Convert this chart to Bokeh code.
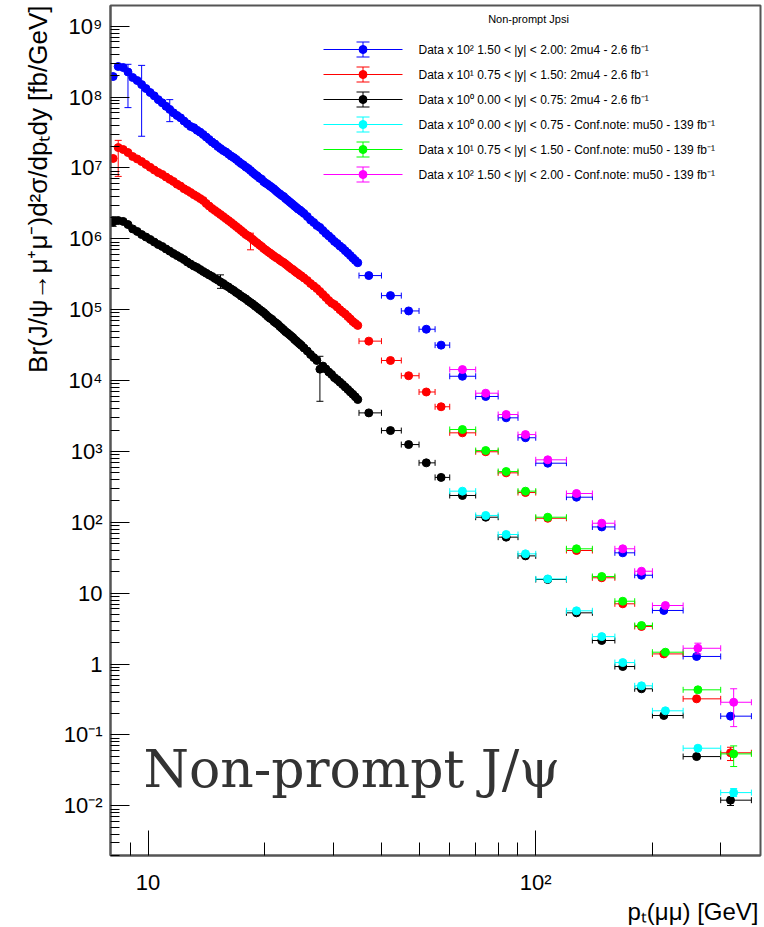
import math
from bokeh.plotting import figure
from bokeh.models import Label, FixedTicker, CustomJSTickFormatter, Range1d, Title
from bokeh.embed import file_html
from bokeh.resources import INLINE

# ---------------- data ----------------
pt_dense = [8.125, 8.375, 8.625, 8.875, 9.125, 9.375, 9.625, 9.875, 10.125, 10.375,
            10.625, 10.875, 11.125, 11.375, 11.625, 11.875, 12.125, 12.375, 12.625, 12.875,
            13.125, 13.375, 13.625, 13.875,
            14.125, 14.375, 14.625, 14.875, 15.125, 15.375, 15.625, 15.875, 16.125, 16.375,
            16.625, 16.875, 17.125, 17.375, 17.625, 17.875, 18.125, 18.375, 18.625, 18.875,
            19.125, 19.375, 19.625, 19.875, 20.125, 20.375, 20.625, 20.875, 21.125, 21.375,
            21.625, 21.875, 22.125, 22.375, 22.625, 22.875, 23.125, 23.375, 23.625, 23.875,
            24.125, 24.375, 24.625, 24.875,
            25.25, 25.75, 26.25, 26.75, 27.25, 27.75, 28.25, 28.75, 29.25, 29.75,
            30.25, 30.75, 31.25, 31.75, 32.25, 32.75, 33.25, 33.75, 34.25, 34.75]
blue_dense = [1.95e8, 2.70e8, 2.61e8, 2.26e8, 1.89e8, 1.71e8, 1.50e8, 1.32e8, 1.16e8, 1.04e8,
              9.2e7, 8.3e7, 7.4e7, 6.7e7, 6.0e7, 5.5e7, 5.1e7, 4.6e7, 4.2e7, 3.85e7,
              3.7e7, 3.4e7, 3.2e7, 2.96e7,
              2.73e7, 2.52e7, 2.32e7, 2.18e7, 2.01e7, 1.88e7, 1.76e7, 1.68e7, 1.57e7, 1.47e7,
              1.40e7, 1.32e7, 1.23e7, 1.155e7, 1.10e7, 1.03e7, 9.8e6, 9.2e6, 8.6e6, 8.1e6,
              7.7e6, 7.2e6, 6.95e6, 6.4e6, 6.1e6, 5.85e6, 5.55e6, 5.3e6, 5.05e6, 4.75e6,
              4.5e6, 4.3e6, 4.08e6, 3.95e6, 3.7e6, 3.53e6, 3.36e6, 3.2e6, 3.05e6, 2.9e6,
              2.77e6, 2.63e6, 2.55e6, 2.43e6,
              2.28e6, 2.06e6, 1.84e6, 1.70e6, 1.54e6, 1.45e6, 1.31e6, 1.19e6, 1.10e6, 1.01e6,
              9.2e5, 8.6e5, 7.9e5, 7.4e5, 6.8e5, 6.3e5, 5.8e5, 5.35e5, 4.95e5, 4.6e5]
red_dense = [1.36e7, 1.94e7, 1.82e7, 1.65e7, 1.45e7, 1.34e7, 1.23e7, 1.12e7, 1.02e7, 9.35e6,
             8.6e6, 8.1e6, 7.45e6, 6.9e6, 6.45e6, 5.9e6, 5.55e6, 5.1e6, 4.8e6, 4.5e6,
             4.2e6, 3.95e6, 3.7e6, 3.47e6,
             3.15e6, 2.90e6, 2.68e6, 2.51e6, 2.35e6, 2.20e6, 2.06e6, 1.93e6, 1.81e6, 1.70e6,
             1.59e6, 1.49e6, 1.40e6, 1.31e6, 1.23e6, 1.15e6, 1.10e6, 1.04e6, 9.8e5, 9.2e5,
             8.7e5, 8.2e5, 7.8e5, 7.3e5, 6.95e5, 6.6e5, 6.3e5, 6.0e5, 5.7e5, 5.45e5,
             5.27e5, 5.0e5, 4.78e5, 4.63e5, 4.41e5, 4.2e5, 4.0e5, 3.81e5, 3.69e5, 3.51e5,
             3.35e5, 3.24e5, 3.08e5, 2.99e5,
             2.80e5, 2.58e5, 2.34e5, 2.16e5, 1.99e5, 1.81e5, 1.64e5, 1.49e5, 1.35e5, 1.24e5,
             1.18e5, 1.09e5, 1.0e5, 9.3e4, 8.7e4, 8.0e4, 7.4e4, 6.8e4, 6.4e4, 6.0e4]
black_dense = [1.73e6, 1.81e6, 1.76e6, 1.59e6, 1.38e6, 1.27e6, 1.15e6, 1.06e6, 9.8e5, 9.0e5,
               8.3e5, 7.8e5, 7.2e5, 6.7e5, 6.2e5, 5.8e5, 5.45e5, 5.1e5, 4.7e5, 4.4e5,
               4.13e5, 3.94e5, 3.69e5, 3.46e5,
               3.27e5, 3.09e5, 2.94e5, 2.76e5, 2.62e5, 2.46e5, 2.34e5, 2.19e5, 2.09e5, 1.96e5,
               1.87e5, 1.75e5, 1.67e5, 1.56e5, 1.49e5, 1.42e5, 1.33e5, 1.26e5, 1.20e5, 1.13e5,
               1.07e5, 1.01e5, 9.6e4, 9.1e4, 8.55e4, 8.0e4, 7.6e4, 7.3e4, 6.8e4, 6.5e4,
               6.2e4, 5.8e4, 5.5e4, 5.2e4, 4.9e4, 4.7e4, 4.47e4, 4.25e4, 4.05e4, 3.8e4,
               3.62e4, 3.44e4, 3.28e4, 3.12e4,
               2.88e4, 2.61e4, 2.33e4, 2.11e4, 1.92e4, 1.45e4, 1.60e4, 1.46e4, 1.32e4, 1.22e4,
               1.10e4, 1.03e4, 9.5e3, 8.8e3, 8.1e3, 7.5e3, 6.9e3, 6.4e3, 5.9e3, 5.4e3]

blue_err_pt = [8.875, 9.625, 11.375]
blue_err_lo = [7.1e7, 2.8e7, 4.5e7]
blue_err_hi = [2.9e8, 2.8e8, 9.2e7]
red_err_pt = [8.375, 18.375]
red_err_lo = [7.6e6, 7.0e5]
red_err_hi = [2.45e7, 1.2e6]
black_err_pt = [8.125, 15.375, 27.75]
black_err_lo = [1.5e6, 2.0e5, 5.1e3]
black_err_hi = [2.05e6, 3.1e5, 2.2e4]

pt_2mu4_bins = [37.1, 42.2, 47.0, 52.2, 57.0, 64.7, 74.3, 83.9, 94.1, 107.4, 127.4, 148, 167.7,
                187.4, 214, 260, 318]
lo_2mu4_bins = [35, 40, 45, 50, 55, 60, 70, 80, 90, 100, 120, 140, 160, 180, 200, 240, 300]
hi_2mu4_bins = [40, 45, 50, 55, 60, 70, 80, 90, 100, 120, 140, 160, 180, 200, 240, 300, 360]
blue_bins = [3.03e5, 1.58e5, 9.6e4, 5.3e4, 3.16e4, 1.15e4, 5.96e3, 2.98e3, 1.56e3, 682, 226, 86,
             37.1, 17.9, 5.7, 1.28, 0.184]
red_bins = [3.6e4, 1.92e4, 1.17e4, 6.9e3, 4.27e3, 1.83e3, 989, 499, 263, 114, 40, 16.5, 7.08,
            3.39, 1.39, 0.323, 0.056]
black_bins = [3.5e3, 1.97e3, 1.25e3, 690, 430, 239, 118, 61.7, 33.6, 15.6, 5.28, 2.15, 0.923,
              0.448, 0.188, 0.0495, 0.012]
red_bins_err_pt = [318]
red_bins_err_lo = [0.0435]
red_bins_err_hi = [0.067]
black_bins_err_pt = [318]
black_bins_err_lo = [0.0101]
black_bins_err_hi = [0.0132]

pt_conf = [64.7, 74.3, 83.9, 94.1, 107.4, 127.4, 148, 167.7, 187.4, 216, 262, 324]
lo_conf = [60, 70, 80, 90, 100, 120, 140, 160, 180, 200, 240, 300]
hi_conf = [70, 80, 90, 100, 120, 140, 160, 180, 200, 240, 300, 360]
cyan_conf = [275, 125, 67.3, 35.9, 15.9, 5.64, 2.44, 1.05, 0.493, 0.219, 0.0649, 0.01535]
green_conf = [2.04e3, 1.03e3, 521, 275, 118, 42.3, 17.2, 7.7, 3.5, 1.47, 0.433, 0.054]
magenta_conf = [1.43e4, 6.63e3, 3.32e3, 1.73e3, 762, 255, 97, 42.3, 20.4, 6.7, 1.67, 0.289]
cyan_err_pt = [324]
cyan_err_lo = [0.0135]
cyan_err_hi = [0.0175]
green_err_pt = [324]
green_err_lo = [0.0358]
green_err_hi = [0.070]
magenta_err_pt = [262, 324]
magenta_err_lo = [1.39, 0.131]
magenta_err_hi = [1.97, 0.448]

legend_labels = [
    "Data x 10\u00b2  1.50 < |y| < 2.00: 2mu4 - 2.6 fb\u207b\u00b9",
    "Data x 10\u00b9 0.75 < |y| < 1.50: 2mu4 - 2.6 fb\u207b\u00b9",
    "Data x 10\u2070  0.00 < |y| < 0.75: 2mu4 - 2.6 fb\u207b\u00b9",
    "Data x 10\u2070  0.00 < |y| < 0.75 - Conf.note: mu50 - 139 fb\u207b\u00b9",
    "Data x 10\u00b9 0.75 < |y| < 1.50 - Conf.note: mu50 - 139 fb\u207b\u00b9",
    "Data x 10\u00b2  1.50 < |y| < 2.00 - Conf.note: mu50 - 139 fb\u207b\u00b9",
]
legend_colors = ["#0000ff", "#ff0000", "#000000", "#00ffff", "#00ff00", "#ff00ff"]
legend_title = "Non-prompt Jpsi"
big_text = "Non-prompt J/\u03c8"
x_title = "p\u209c(\u03bc\u03bc) [GeV]"
y_title = "Br(J/\u03c8\u2192\u03bc\u207a\u03bc\u207b)d\u00b2\u03c3/dp\u209cdy [fb/GeV]"

y_decades = list(range(-2, 10))
x_major = [10, 100]
x_minor = [9, 20, 30, 40, 50, 60, 70, 80, 90, 200, 300]

# ---------------- layout ----------------
X0, X1 = 8.0, 380.0
L0, L1 = -2.7013, 9.2921
Y0, Y1 = 10 ** L0, 10 ** L1
W, H = 764, 927
FL, FR, FT, FB = 110, 760, 5, 855   # frame edges in canvas pixels
FONT = "Liberation Sans"


def dx(px):
    lx0, lx1 = math.log10(X0), math.log10(X1)
    return 10 ** (lx0 + (px - FL) / (FR - FL) * (lx1 - lx0))


def dy(py):
    return 10 ** (L1 - (py - FT) / (FB - FT) * (L1 - L0))


p = figure(width=W, height=H, x_axis_type="log", y_axis_type="log",
           x_range=Range1d(X0, X1), y_range=Range1d(Y0, Y1),
           output_backend="svg", toolbar_location=None,
           min_border_left=FL, min_border_right=W - FR,
           min_border_top=FT, min_border_bottom=H - FB)
p.grid.visible = False
p.outline_line_color = "#555555"
p.outline_line_width = 2
p.background_fill_color = "white"
p.border_fill_color = "white"

fmt = CustomJSTickFormatter(code="""
const e = Math.round(Math.log10(tick));
if (e == 0) return "1";
if (e == 1) return "10";
const sup = {"0": "\u2070", "1": "\u00b9", "2": "\u00b2", "3": "\u00b3", "4": "\u2074",
             "5": "\u2075", "6": "\u2076", "7": "\u2077", "8": "\u2078", "9": "\u2079",
             "-": "\u207b"};
return "10" + String(e).split("").map((c) => sup[c]).join("");
""")

p.xaxis.ticker = FixedTicker(ticks=x_major, minor_ticks=x_minor)
p.yaxis.ticker = FixedTicker(ticks=[10.0 ** k for k in y_decades],
                             minor_ticks=[m * 10.0 ** k for k in range(-3, 10) for m in range(2, 10)])
for ax in (p.xaxis[0], p.yaxis[0]):
    ax.formatter = fmt
    ax.major_label_text_font = FONT
    ax.major_label_text_font_size = "22px"
    ax.major_label_text_color = "black"
    ax.major_tick_out = 0
    ax.minor_tick_out = 0
    ax.axis_line_color = "#555555"
    ax.axis_line_width = 2
    ax.major_tick_line_color = "black"
    ax.minor_tick_line_color = "black"

p.xaxis.major_tick_in = 25
p.xaxis.minor_tick_in = 13
p.yaxis.major_tick_in = 19
p.yaxis.minor_tick_in = 9
p.yaxis.major_label_standoff = 8
p.xaxis.major_label_standoff = 14

# axis titles, right-aligned like the original
p.add_layout(Title(text=y_title, align="right", text_font=FONT, text_font_size="26px",
                   text_font_style="normal", text_color="black", standoff=16), "left")
p.add_layout(Title(text=x_title, align="right", vertical_align="top", offset=2,
                   text_font=FONT, text_font_size="24px", text_font_style="normal",
                   text_color="black", standoff=0), "below")


def lab(px, py, text, size, align="left", baseline="middle", angle=0.0,
        font=FONT, color="black"):
    # text placed inside the frame
    p.add_layout(Label(x=dx(px), y=dy(py), text=text, text_font=font,
                       text_font_size=f"{size}px", text_align=align,
                       text_baseline=baseline, angle=angle, text_color=color))


# ---------------- data drawing ----------------
def vbars(xs, lo, hi, color, cap=7):
    if not xs:
        return
    p.segment(x0=xs, y0=lo, x1=xs, y1=hi, line_color=color, line_width=1)
    p.scatter(xs + xs, lo + hi, marker="dash", size=cap, line_color=color, line_width=1)


def hbars(xs, lo, hi, ys, color, cap=6):
    p.segment(x0=lo, y0=ys, x1=hi, y1=ys, line_color=color, line_width=1)
    p.scatter(lo + hi, ys + ys, marker="dash", size=cap, angle=math.pi / 2,
              line_color=color, line_width=1)


MS = 8
for ys, c, ex, el, eh in [(blue_dense, "#0000ff", blue_err_pt, blue_err_lo, blue_err_hi),
                          (red_dense, "#ff0000", red_err_pt, red_err_lo, red_err_hi),
                          (black_dense, "#000000", black_err_pt, black_err_lo, black_err_hi)]:
    vbars(ex, el, eh, c)
    p.scatter(pt_dense, ys, size=MS, color=c)

for ys, c, ex, el, eh in [(blue_bins, "#0000ff", [], [], []),
                          (red_bins, "#ff0000", red_bins_err_pt, red_bins_err_lo, red_bins_err_hi),
                          (black_bins, "#000000", black_bins_err_pt, black_bins_err_lo, black_bins_err_hi)]:
    hbars(pt_2mu4_bins, lo_2mu4_bins, hi_2mu4_bins, ys, c)
    vbars(ex, el, eh, c)
    p.scatter(pt_2mu4_bins, ys, size=MS, color=c)

for ys, c, ex, el, eh in [(cyan_conf, "#00ffff", cyan_err_pt, cyan_err_lo, cyan_err_hi),
                          (green_conf, "#00ff00", green_err_pt, green_err_lo, green_err_hi),
                          (magenta_conf, "#ff00ff", magenta_err_pt, magenta_err_lo, magenta_err_hi)]:
    hbars(pt_conf, lo_conf, hi_conf, ys, c)
    vbars(ex, el, eh, c)
    p.scatter(pt_conf, ys, size=MS, color=c)

# ---------------- legend ----------------
leg_rows = [49, 74, 99, 124, 149, 174]
lab(528, 18, legend_title, 11, align="center")
for row, text, c in zip(leg_rows, legend_labels, legend_colors):
    yv = dy(row)
    p.segment(x0=[dx(323)], y0=[yv], x1=[dx(402)], y1=[yv], line_color=c, line_width=1)
    p.segment(x0=[dx(362.5)], y0=[dy(row - 7.5)], x1=[dx(362.5)], y1=[dy(row + 7.5)],
              line_color=c, line_width=1)
    p.scatter([dx(362.5), dx(362.5)], [dy(row - 7.5), dy(row + 7.5)], marker="dash",
              size=13, line_color=c, line_width=1)
    p.scatter([dx(362.5)], [yv], size=MS, color=c)
    lab(418, row, text, 12)

# big label
lab(143, 768, big_text, 52, align="left", baseline="alphabetic", font="DejaVu Serif",
    color="#333333")

open("out.html", "w").write(file_html(p, INLINE))
